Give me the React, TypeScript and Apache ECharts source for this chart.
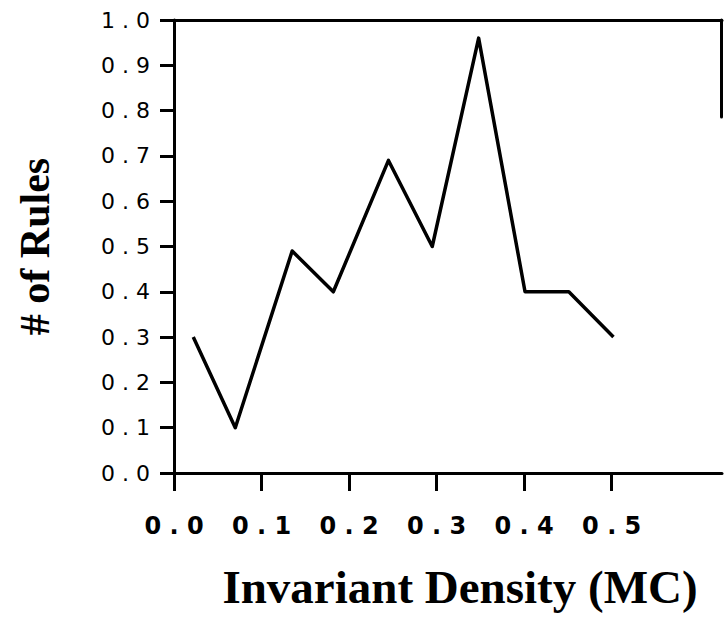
import React, { useEffect, useRef } from "react";
import * as echarts from "echarts";

const densities = [0.022, 0.07, 0.135, 0.182, 0.245, 0.295, 0.348, 0.401, 0.451, 0.502];
const rules = [0.3, 0.1, 0.49, 0.4, 0.69, 0.5, 0.96, 0.4, 0.4, 0.3];
const xMax = 0.626;
const xTickMax = 0.5;
const xTitle = "Invariant Density (MC)";
const yTitle = "# of Rules";

const spaced = (v: number) => v.toFixed(1).split("").join(" ");

export default function App() {
  const ref = useRef<HTMLDivElement>(null);
  useEffect(() => {
    document.body.style.margin = "0";
    const chart = echarts.init(ref.current!, null, { renderer: "svg" });
    const black = "#000";
    const left = 174;
    const right = 2;
    const top = 20;
    const plotW = 724 - left - right;
    chart.setOption({
      animation: false,
      backgroundColor: "#fff",
      grid: [
        { left, right, top, bottom: 150 },
        { left, width: (plotW * xTickMax) / xMax, top, bottom: 150 },
        { right: right + 1, width: 20, top, height: 97 },
      ],
      xAxis: [
        {
          type: "value",
          gridIndex: 0,
          min: 0,
          max: xMax,
          splitLine: { show: false },
          axisLine: { onZero: false, lineStyle: { color: black, width: 3 } },
          axisTick: { show: false },
          axisLabel: { show: false },
          name: xTitle,
          nameLocation: "middle",
          nameGap: 90,
          nameTextStyle: {
            fontFamily: "Liberation Serif",
            fontWeight: "bold",
            fontSize: 47,
            color: black,
            padding: [0, 0, 0, 24],
          },
        },
        {
          type: "value",
          gridIndex: 1,
          min: 0,
          max: xTickMax,
          interval: 0.1,
          splitLine: { show: false },
          axisLine: { show: false, onZero: false },
          axisTick: { show: true, length: 18, lineStyle: { color: black, width: 3 } },
          axisLabel: {
            margin: 41,
            color: black,
            fontFamily: "DejaVu Sans",
            fontWeight: "bold",
            fontSize: 24,
            formatter: (v: number) => spaced(v),
          },
        },
        {
          type: "value",
          gridIndex: 0,
          position: "top",
          min: 0,
          max: xMax,
          splitLine: { show: false },
          axisLine: { show: true, onZero: false, lineStyle: { color: black, width: 3 } },
          axisTick: { show: false },
          axisLabel: { show: false },
        },
        { type: "value", gridIndex: 2, min: 0, max: 1, show: false },
      ],
      yAxis: [
        {
          type: "value",
          gridIndex: 0,
          min: 0,
          max: 1,
          interval: 0.1,
          splitLine: { show: false },
          axisLine: { show: true, onZero: false, lineStyle: { color: black, width: 3 } },
          axisTick: { show: true, length: 14, lineStyle: { color: black, width: 3 } },
          axisLabel: {
            margin: 24,
            color: black,
            fontFamily: "DejaVu Sans",
            fontSize: 22,
            formatter: (v: number) => spaced(v),
          },
          name: yTitle,
          nameLocation: "middle",
          nameGap: 118,
          nameTextStyle: {
            fontFamily: "Liberation Serif",
            fontWeight: "bold",
            fontSize: 42,
            color: black,
          },
        },
        { type: "value", gridIndex: 1, min: 0, max: 1, show: false },
        {
          type: "value",
          gridIndex: 2,
          position: "right",
          min: 0,
          max: 1,
          splitLine: { show: false },
          axisLine: { show: true, onZero: false, lineStyle: { color: black, width: 3 } },
          axisTick: { show: false },
          axisLabel: { show: false },
        },
      ],
      series: [
        {
          type: "line",
          xAxisIndex: 0,
          yAxisIndex: 0,
          data: densities.map((x, i) => [x, rules[i]]),
          symbol: "none",
          lineStyle: { color: black, width: 3.5, join: "round" },
        },
      ],
    });
    return () => chart.dispose();
  }, []);
  return <div ref={ref} style={{ width: 724, height: 623 }} />;
}
